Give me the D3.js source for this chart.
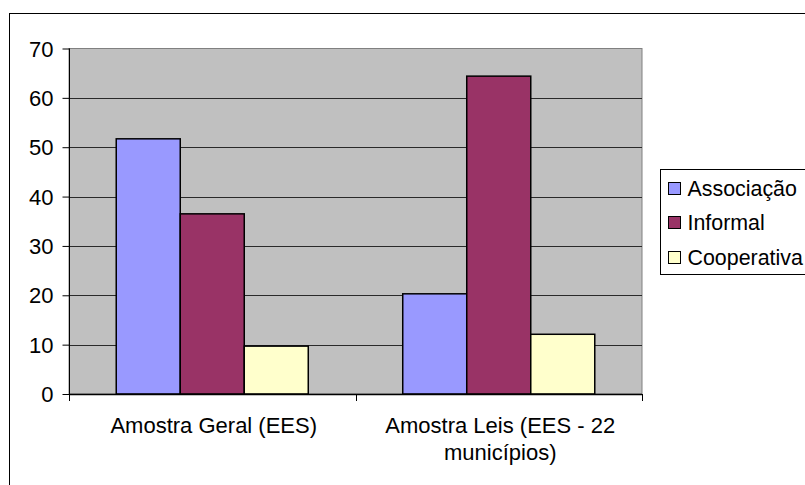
<!DOCTYPE html>
<html>
<head>
<meta charset="utf-8">
<script src="https://cdn.jsdelivr.net/npm/d3@7"></script>
<style>
  html, body { margin: 0; padding: 0; background: #fff; }
  svg { display: block; }
  text { font-family: "Liberation Sans", Arial, sans-serif; fill: #000; }
</style>
</head>
<body>
<svg id="chart" width="805" height="485"></svg>
<script>
// Tipo de organização dos empreendimentos, por amostra (%)
const categories = ["Amostra Geral (EES)", "Amostra Leis (EES - 22 municípios)"];
const seriesNames = ["Associação", "Informal", "Cooperativa"];
const associacao = [51.7, 20.3];
const informal = [36.5, 64.4];
const cooperativa = [9.7, 12.1];
const yTicks = [0, 10, 20, 30, 40, 50, 60, 70];
const colors = ["#9999FF", "#993366", "#FFFFCC"];

const seriesValues = [associacao, informal, cooperativa];
const rows = categories.map((c, i) => ({
  category: c,
  values: seriesNames.map((s, j) => ({ key: s, value: seriesValues[j][i] }))
}));

const svg = d3.select("#chart");
const fontSize = 22;
const legendFontSize = 21.4;

// Chart area frame
svg.append("rect")
  .attr("x", 9.5).attr("y", 13.5)
  .attr("width", 820).attr("height", 500)
  .attr("fill", "#fff").attr("stroke", "#000").attr("stroke-width", 1);

const plot = { left: 69, top: 48.5, right: 642, bottom: 394 };

const x0 = d3.scaleBand()
  .domain(categories)
  .range([plot.left, plot.right])
  .paddingInner(0).paddingOuter(0);

const x1 = d3.scaleBand()
  .domain(seriesNames)
  .range([0, x0.bandwidth()])
  .paddingInner(0)
  .paddingOuter(0.738);

const y = d3.scaleLinear()
  .domain([0, 70])
  .range([plot.bottom, plot.top]);

// Plot background
svg.append("rect")
  .attr("x", plot.left).attr("y", plot.top)
  .attr("width", plot.right - plot.left).attr("height", plot.bottom - plot.top)
  .attr("fill", "#C0C0C0")
  .attr("stroke", "#808080").attr("stroke-width", 1);

// Horizontal gridlines
svg.append("g")
  .selectAll("line")
  .data(yTicks.filter(t => t > 0 && t < 70))
  .join("line")
  .attr("x1", plot.left).attr("x2", plot.right)
  .attr("y1", d => Math.round(y(d)) + 0.5)
  .attr("y2", d => Math.round(y(d)) + 0.5)
  .attr("stroke", "#2a2a2a").attr("stroke-width", 1);

// Bars
const groups = svg.append("g")
  .selectAll("g")
  .data(rows)
  .join("g")
  .attr("transform", d => `translate(${x0(d.category)},0)`);

groups.selectAll("rect")
  .data(d => d.values)
  .join("rect")
  .attr("x", d => x1(d.key))
  .attr("y", d => y(d.value))
  .attr("width", x1.bandwidth())
  .attr("height", d => y(0) - y(d.value))
  .attr("fill", (d, i) => colors[i])
  .attr("stroke", "#000").attr("stroke-width", 1.5);

// Y axis
const yAxis = d3.axisLeft(y)
  .tickValues(yTicks)
  .tickSize(7)
  .tickPadding(9)
  .tickFormat(d3.format("d"));

const gy = svg.append("g")
  .attr("transform", `translate(${plot.left + 0.5},0)`)
  .call(yAxis);
gy.select(".domain").attr("stroke", "#000").attr("d", `M0,${plot.top}V${plot.bottom}`);
gy.selectAll(".tick line").attr("stroke", "#000");
gy.selectAll(".tick text")
  .style("font-size", fontSize + "px")
  .attr("dy", "0.35em");

// X axis with boundary ticks between categories
svg.append("line")
  .attr("x1", plot.left).attr("x2", plot.right)
  .attr("y1", plot.bottom + 0.5).attr("y2", plot.bottom + 0.5)
  .attr("stroke", "#000").attr("stroke-width", 1.5);

const boundaries = categories.map(c => x0(c)).concat([x0.range()[1]]);
svg.append("g")
  .selectAll("line")
  .data(boundaries)
  .join("line")
  .attr("x1", d => Math.round(d) + 0.5).attr("x2", d => Math.round(d) + 0.5)
  .attr("y1", plot.bottom).attr("y2", plot.bottom + 7)
  .attr("stroke", "#000");

// Category labels, wrapped to the band width
const labels = svg.append("g")
  .selectAll("text")
  .data(categories)
  .join("text")
  .attr("x", d => x0(d) + x0.bandwidth() / 2 + 1.5)
  .attr("y", 432.5)
  .attr("text-anchor", "middle")
  .style("font-size", fontSize + "px");

labels.each(function(d) {
  const text = d3.select(this);
  const words = d.split(" ");
  const maxW = x0.bandwidth() - 20;
  let line = [];
  let tspan = text.append("tspan").attr("x", text.attr("x")).attr("dy", 0);
  words.forEach(w => {
    line.push(w);
    tspan.text(line.join(" "));
    if (tspan.node().getComputedTextLength() > maxW && line.length > 1) {
      line.pop();
      tspan.text(line.join(" "));
      line = [w];
      tspan = text.append("tspan").attr("x", text.attr("x")).attr("dy", 27).text(w);
    }
  });
});

// Legend
const legend = svg.append("g");
legend.append("rect")
  .attr("x", 660.5).attr("y", 169.5)
  .attr("width", 200).attr("height", 105)
  .attr("fill", "#fff").attr("stroke", "#000").attr("stroke-width", 1);

const rowY = [188, 222, 257];
const items = legend.selectAll("g.item")
  .data(seriesNames)
  .join("g")
  .attr("class", "item")
  .attr("transform", (d, i) => `translate(668,${rowY[i]})`);

items.append("rect")
  .attr("x", 0.5).attr("y", -5.5)
  .attr("width", 12).attr("height", 12)
  .attr("fill", (d, i) => colors[i])
  .attr("stroke", "#000").attr("stroke-width", 1);

items.append("text")
  .attr("x", 19.5).attr("y", 0)
  .attr("dy", "0.36em")
  .style("font-size", legendFontSize + "px")
  .text(d => d);
</script>
</body>
</html>
